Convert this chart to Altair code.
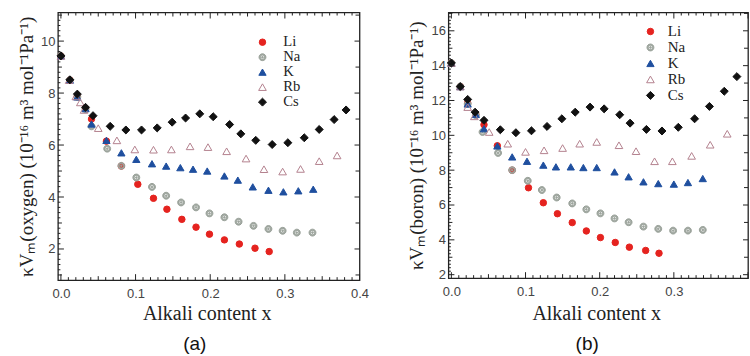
import altair as alt
import numpy as np
import pandas as pd

# ---- series (x = alkali content, y = kappa*Vm in 1e-16 m^3 mol^-1 Pa^-1) ----
METALS = ["Li", "Na", "K", "Rb", "Cs"]

# oxygen-site values
li_ox_x = [0, 0.012, 0.022, 0.033, 0.041, 0.061, 0.081, 0.103, 0.124, 0.142, 0.162, 0.181, 0.199, 0.219, 0.239, 0.260, 0.279]
li_ox_y = [9.43, 8.50, 7.88, 7.40, 7.00, 6.15, 5.19, 4.49, 3.95, 3.53, 3.14, 2.84, 2.57, 2.35, 2.19, 2.03, 1.90]
na_ox_x = [0, 0.012, 0.022, 0.033, 0.041, 0.062, 0.081, 0.101, 0.122, 0.141, 0.161, 0.181, 0.199, 0.219, 0.238, 0.258, 0.278, 0.297, 0.316, 0.337]
na_ox_y = [9.43, 8.50, 7.85, 7.38, 6.72, 5.86, 5.20, 4.75, 4.39, 4.05, 3.79, 3.60, 3.37, 3.22, 3.05, 2.89, 2.77, 2.70, 2.63, 2.63]
k_ox_x = [0, 0.012, 0.022, 0.033, 0.041, 0.061, 0.081, 0.101, 0.122, 0.141, 0.160, 0.177, 0.196, 0.219, 0.237, 0.257, 0.278, 0.298, 0.318, 0.338]
k_ox_y = [9.43, 8.50, 7.85, 7.40, 6.81, 6.18, 5.70, 5.45, 5.28, 5.19, 5.13, 5.07, 5.00, 4.81, 4.65, 4.39, 4.26, 4.20, 4.24, 4.30]
rb_ox_x = [0, 0.011, 0.020, 0.026, 0.031, 0.050, 0.075, 0.099, 0.124, 0.148, 0.173, 0.197, 0.222, 0.248, 0.272, 0.297, 0.321, 0.346, 0.370]
rb_ox_y = [9.43, 8.50, 7.87, 7.64, 7.35, 6.65, 6.18, 5.83, 5.82, 5.83, 5.95, 5.92, 5.76, 5.48, 5.07, 4.98, 5.08, 5.38, 5.60]
cs_ox_x = [0, 0.012, 0.022, 0.033, 0.043, 0.066, 0.087, 0.108, 0.129, 0.149, 0.167, 0.186, 0.204, 0.226, 0.241, 0.261, 0.283, 0.304, 0.326, 0.346, 0.366, 0.382]
cs_ox_y = [9.43, 8.51, 7.96, 7.45, 7.13, 6.72, 6.58, 6.58, 6.66, 6.88, 7.04, 7.20, 7.09, 6.79, 6.43, 6.18, 6.02, 6.09, 6.28, 6.60, 6.98, 7.35]

# boron-site values
li_bo_x = [0, 0.012, 0.022, 0.033, 0.044, 0.062, 0.082, 0.104, 0.124, 0.143, 0.163, 0.182, 0.201, 0.221, 0.240, 0.262, 0.280]
li_bo_y = [14.15, 12.80, 11.85, 11.20, 10.61, 9.40, 8.00, 6.99, 6.13, 5.50, 4.99, 4.51, 4.13, 3.85, 3.58, 3.39, 3.23]
na_bo_x = [0, 0.012, 0.022, 0.033, 0.042, 0.063, 0.082, 0.103, 0.122, 0.142, 0.163, 0.182, 0.201, 0.220, 0.239, 0.259, 0.279, 0.299, 0.319, 0.339]
na_bo_y = [14.15, 12.80, 11.80, 11.15, 10.19, 8.99, 8.00, 7.39, 6.86, 6.43, 6.09, 5.75, 5.52, 5.23, 5.01, 4.76, 4.63, 4.53, 4.53, 4.57]
k_bo_x = [0, 0.012, 0.022, 0.033, 0.044, 0.062, 0.082, 0.102, 0.124, 0.141, 0.161, 0.178, 0.196, 0.220, 0.239, 0.259, 0.279, 0.300, 0.319, 0.339]
k_bo_y = [14.15, 12.80, 11.80, 11.20, 10.38, 9.39, 8.76, 8.51, 8.29, 8.19, 8.19, 8.15, 8.15, 7.90, 7.62, 7.33, 7.23, 7.20, 7.29, 7.52]
rb_bo_x = [0, 0.012, 0.022, 0.031, 0.051, 0.076, 0.100, 0.125, 0.150, 0.173, 0.196, 0.226, 0.249, 0.274, 0.298, 0.324, 0.349, 0.372]
rb_bo_y = [14.15, 12.80, 11.62, 11.09, 10.19, 9.52, 9.05, 9.14, 9.27, 9.52, 9.62, 9.43, 9.09, 8.51, 8.51, 8.82, 9.46, 10.09]
cs_bo_x = [0, 0.012, 0.022, 0.032, 0.044, 0.066, 0.087, 0.108, 0.129, 0.149, 0.167, 0.187, 0.206, 0.227, 0.241, 0.263, 0.284, 0.306, 0.328, 0.348, 0.368, 0.385]
cs_bo_y = [14.15, 12.80, 12.06, 11.33, 10.86, 10.32, 10.15, 10.26, 10.51, 10.95, 11.33, 11.62, 11.52, 11.18, 10.70, 10.34, 10.25, 10.46, 10.95, 11.66, 12.53, 13.37]

# tick labels
x_labels_ox = [0.0, 0.1, 0.2, 0.3, 0.4]
x_labels_bo = [0.0, 0.1, 0.2, 0.3]
y_labels_ox = [2, 4, 6, 8, 10]
y_labels_bo = [2, 4, 6, 8, 10, 12, 14, 16]

# ---- styling ----
NA_PATH = ("M-1,0A1,1 0 1,1 1,0A1,1 0 1,1 -1,0Z "
           "M-0.62,0A0.62,0.62 0 1,0 0.62,0A0.62,0.62 0 1,0 -0.62,0Z "
           "M-0.26,0A0.26,0.26 0 1,1 0.26,0A0.26,0.26 0 1,1 -0.26,0Z")
SHAPES = ["circle", NA_PATH, "triangle-up", "triangle-up", "diamond"]
FILLS = ["#e5231f", "#a2a9a2", "#1f4f9f", "transparent", "#111111"]
STROKES = ["#e5231f", "#98a098", "#1f4f9f", "#b4828f", "#111111"]
SIZES = [42, 64, 58, 60, 64]
INK = "#222222"
SERIF = "Liberation Serif"
SANS = "Liberation Sans"


def frame(series):
    rows = []
    for metal, xs, ys in series:
        for xv, yv in zip(xs, ys):
            rows.append({"metal": metal, "x": xv, "y": yv})
    return pd.DataFrame(rows)


ox_df = frame([("Li", li_ox_x, li_ox_y), ("Na", na_ox_x, na_ox_y), ("K", k_ox_x, k_ox_y),
               ("Rb", rb_ox_x, rb_ox_y), ("Cs", cs_ox_x, cs_ox_y)])
bo_df = frame([("Li", li_bo_x, li_bo_y), ("Na", na_bo_x, na_bo_y), ("K", k_bo_x, k_bo_y),
               ("Rb", rb_bo_x, rb_bo_y), ("Cs", cs_bo_x, cs_bo_y)])


def rules(vals, side, length, xs, ys, xaxis, yaxis, W, H):
    d = pd.DataFrame({"v": vals})
    base = alt.Chart(d).mark_rule(color=INK, strokeWidth=1)
    if side == "bottom":
        return base.encode(x=alt.X("v:Q", scale=xs, axis=xaxis), y=alt.value(H), y2=alt.value(H - length))
    if side == "top":
        return base.encode(x=alt.X("v:Q", scale=xs, axis=xaxis), y=alt.value(0), y2=alt.value(length))
    if side == "left":
        return base.encode(y=alt.Y("v:Q", scale=ys, axis=yaxis), x=alt.value(0), x2=alt.value(length))
    return base.encode(y=alt.Y("v:Q", scale=ys, axis=yaxis), x=alt.value(W), x2=alt.value(W - length))


def panel(df, xdom, ydom, W, H, xlabels, ylabels, ytitle, letter, lx, ly, loff, lfs, letter_dx, xt_y):
    xs = alt.Scale(domain=xdom, nice=False, zero=False)
    ys = alt.Scale(domain=ydom, nice=False, zero=False)
    leg = alt.Legend(title=None, orient="none", legendX=lx, legendY=ly, padding=0,
                     rowPadding=0, labelOffset=loff, labelFont=SERIF,
                     labelFontSize=lfs, labelColor=INK, labelBaseline="middle",
                     symbolStrokeWidth=1)
    xaxis = alt.Axis(values=xlabels, format=".1f", labelFlush=False, labelOverlap=False,
                     labelPadding=7, title="Alkali content x",
                     titleX=W / 2 - 2, titleY=xt_y, titleBaseline="alphabetic", titleAlign="center")
    yaxis = alt.Axis(values=ylabels, format="d", labelOverlap=False, labelPadding=3,
                     title=ytitle, titleX=-31.5, titleY=H / 2,
                     titleAngle=270, titleAlign="center", titleBaseline="middle")
    pts = alt.Chart(df).mark_point(opacity=1, strokeWidth=1).encode(
        x=alt.X("x:Q", scale=xs, axis=xaxis),
        y=alt.Y("y:Q", scale=ys, axis=yaxis),
        shape=alt.Shape("metal:N", scale=alt.Scale(domain=METALS, range=SHAPES), legend=leg),
        fill=alt.Fill("metal:N", scale=alt.Scale(domain=METALS, range=FILLS), legend=leg),
        stroke=alt.Stroke("metal:N", scale=alt.Scale(domain=METALS, range=STROKES), legend=leg),
        size=alt.Size("metal:N", scale=alt.Scale(domain=METALS, range=SIZES), legend=leg),
    )

    x_all = [round(v, 3) for v in np.arange(0, 0.4001, 0.01) if xdom[0] <= v <= xdom[1]]
    x_major = [v for v in x_all if abs(v * 10 - round(v * 10)) < 1e-6]
    x_mid = [v for v in x_all if v not in x_major and abs(v * 20 - round(v * 20)) < 1e-6]
    x_minor = [v for v in x_all if v not in x_major and v not in x_mid]
    y_all = [round(v, 2) for v in np.arange(np.ceil(ydom[0]), ydom[1], 0.2)]
    y_major = [v for v in y_all if abs(v - round(v)) < 1e-6 and round(v) % 2 == 0]
    y_mid = [v for v in y_all if abs(v - round(v)) < 1e-6 and round(v) % 2 == 1]
    y_minor = [v for v in y_all if abs(v - round(v)) > 1e-6]

    a = (xs, ys, xaxis, yaxis, W, H)
    layers = [pts]
    for side in ("bottom", "top"):
        layers += [rules(x_major, side, 6, *a), rules(x_mid, side, 4, *a), rules(x_minor, side, 3, *a)]
    layers += [rules(y_major, "left", 6, *a), rules(y_mid, "left", 4, *a), rules(y_minor, "left", 2.5, *a)]
    layers += [rules(y_major, "right", 5, *a), rules(y_mid, "right", 4, *a)]

    return alt.layer(*layers).properties(
        width=W, height=H,
        title=alt.TitleParams(text=letter, orient="bottom", font=SANS, fontSize=19,
                              fontWeight="normal", color="#111", offset=12, dx=letter_dx,
                              anchor="middle"),
    )


left = panel(ox_df, [-0.004, 0.4], [0.8, 11.1], 302, 268, x_labels_ox, y_labels_ox,
             "κVₘ(oxygen) (10⁻¹⁶ m³ mol⁻¹Pa⁻¹)", "(a)", 197.5, 22.4, 13.5, 14.65, -14, 39)
right = panel(bo_df, [-0.004, 0.4], [1.8, 17.05], 300, 266, x_labels_bo, y_labels_bo,
              "κVₘ(boron) (10⁻¹⁶ m³ mol⁻¹Pa⁻¹)", "(b)", 194.8, 11.5, 9.9, 15, -11, 41)

chart = alt.hconcat(left, right, spacing=89, bounds="flush").resolve_scale(
    shape="independent", fill="independent", stroke="independent", size="independent"
).resolve_legend(
    shape="independent", fill="independent", stroke="independent", size="independent"
).properties(
    padding={"left": 16, "top": 10.3, "right": 0, "bottom": 0},
    background="white",
).configure_view(
    stroke=INK, strokeWidth=1.3
).configure_axis(
    ticks=False, domain=False, grid=False,
    labelFont=SANS, labelFontSize=13, labelColor="#444",
    titleFont=SERIF, titleFontWeight="normal", titleColor=INK,
).configure_axisX(
    titleFontSize=20
).configure_axisY(
    titleFontSize=19
)

chart.save("out.html", embed_options={"renderer": "svg", "actions": False})
